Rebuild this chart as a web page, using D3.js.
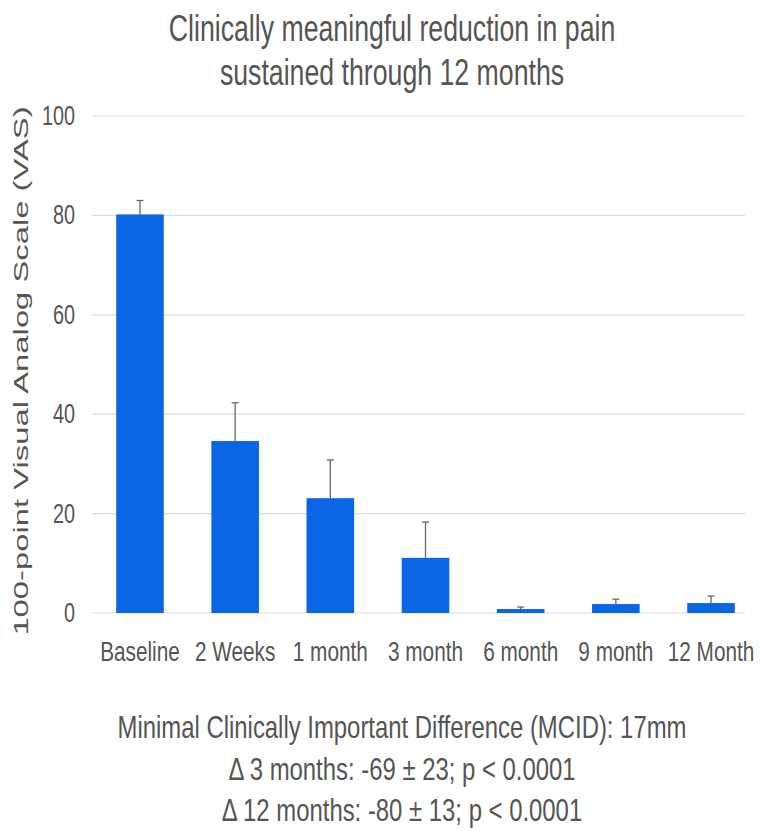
<!DOCTYPE html>
<html>
<head>
<meta charset="utf-8">
<script src="https://cdn.jsdelivr.net/npm/d3@7"></script>
<style>
  body { margin: 0; background: #fff; }
  svg text { font-family: "Liberation Sans", Arial, sans-serif; fill: #555; }
</style>
</head>
<body>
<svg id="chart" width="760" height="831"></svg>
<script>
// chart data
const categories = ["Baseline", "2 Weeks", "1 month", "3 month", "6 month", "9 month", "12 Month"];
const vasMean = [80.2, 34.6, 23.1, 11.1, 0.8, 1.8, 2.0];
const vasErr = [2.8, 7.7, 7.7, 7.2, 0.4, 1.0, 1.4];
const yTicks = [0, 20, 40, 60, 80, 100];
const titleLines = ["Clinically meaningful reduction in pain", "sustained through 12 months"];
const noteLines = [
  "Minimal Clinically Important Difference (MCID): 17mm",
  "\u0394 3 months: -69 \u00b1 23; p < 0.0001",
  "\u0394 12 months: -80 \u00b1 13; p < 0.0001"
];

// the picture is stretched vertically, so text gets a y scale
const K = 1.35;
const svg = d3.select("#chart");

const x = d3.scaleBand()
  .domain(categories)
  .range([92.4, 758.6])
  .paddingInner(0.5)
  .paddingOuter(0.25);

const y = d3.scaleLinear()
  .domain([0, 100])
  .range([613, 116]);

// draw a text that is stretched vertically
function stretchedText(g, str, tx, ty, size, anchor) {
  return g.append("text")
    .attr("transform", `translate(${tx},${ty}) scale(1,${K})`)
    .attr("text-anchor", anchor || "middle")
    .attr("dominant-baseline", "central")
    .style("font-size", size + "px")
    .text(str);
}

// gridlines
svg.append("g")
  .selectAll("line")
  .data(yTicks)
  .enter()
  .append("line")
  .attr("x1", 92)
  .attr("x2", 745)
  .attr("y1", (d) => y(d))
  .attr("y2", (d) => y(d))
  .attr("stroke", "#dcdcdc")
  .attr("stroke-width", 1.2);

// y tick labels
const yLab = svg.append("g");
yTicks.forEach((t) => stretchedText(yLab, t, 75, y(t), 19.8, "end"));

// bars
svg.append("g")
  .selectAll("rect")
  .data(categories)
  .enter()
  .append("rect")
  .attr("x", (d) => x(d))
  .attr("y", (d, i) => y(vasMean[i]))
  .attr("width", x.bandwidth())
  .attr("height", (d, i) => y(0) - y(vasMean[i]))
  .attr("fill", "#0b66e6");

// error bars (upper only)
const err = svg.append("g").attr("stroke", "#666").attr("stroke-width", 1.3);
categories.forEach((c, i) => {
  const cx = x(c) + x.bandwidth() / 2;
  err.append("line")
    .attr("x1", cx).attr("x2", cx)
    .attr("y1", y(vasMean[i])).attr("y2", y(vasMean[i] + vasErr[i]));
  err.append("line")
    .attr("x1", cx - 3.5).attr("x2", cx + 3.5)
    .attr("y1", y(vasMean[i] + vasErr[i])).attr("y2", y(vasMean[i] + vasErr[i]));
});

// category labels
const xLab = svg.append("g");
categories.forEach((c) => stretchedText(xLab, c, x(c) + x.bandwidth() / 2, 651, 20.8));

// y axis title
svg.append("text")
  .attr("transform", `translate(21,371) rotate(-90) scale(1.6,1)`)
  .attr("text-anchor", "middle")
  .attr("dominant-baseline", "central")
  .style("font-size", "20.5px")
  .text("100-point Visual Analog Scale (VAS)");

// title
const title = svg.append("g");
titleLines.forEach((l, i) => stretchedText(title, l, 392, 28 + i * 44, 26.7));

// notes under the chart
const notes = svg.append("g");
noteLines.forEach((l, i) => stretchedText(notes, l, 402, 727 + i * 41.5, 23.9));
</script>
</body>
</html>
